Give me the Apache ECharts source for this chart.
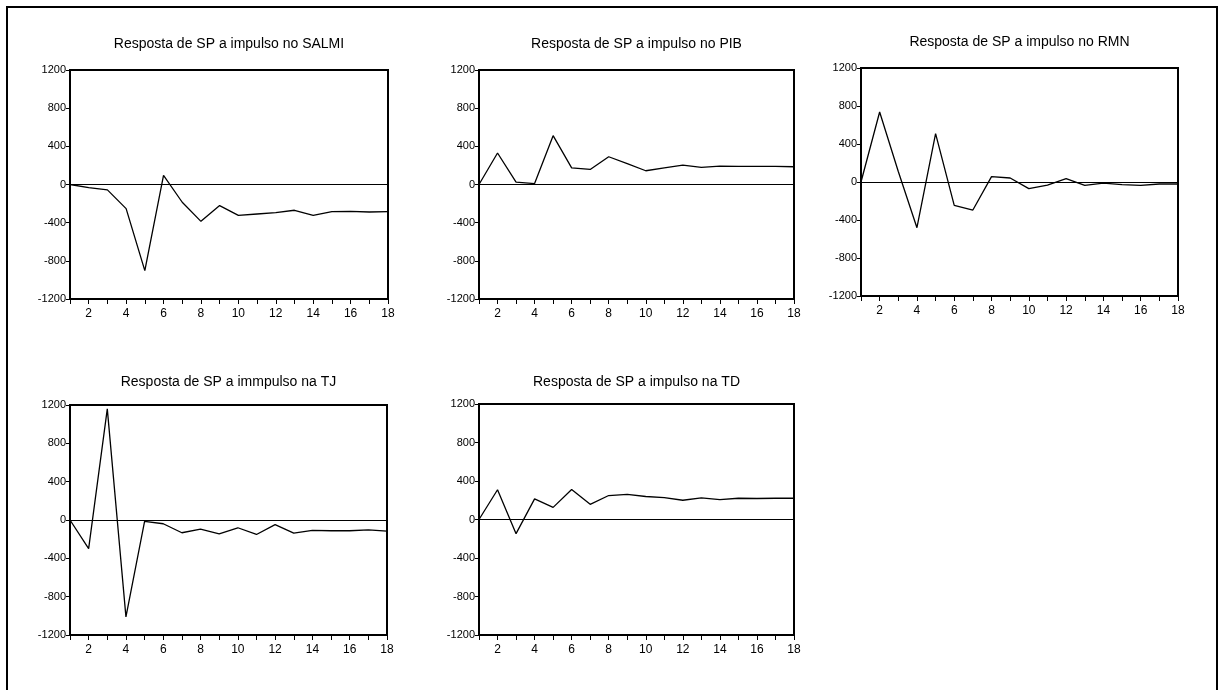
<!DOCTYPE html>
<html>
<head>
<meta charset="utf-8">
<script src="https://cdn.jsdelivr.net/npm/echarts@6/dist/echarts.min.js"></script>
<style>
  html, body { margin: 0; padding: 0; background: #fff; }
  #chart { width: 1218px; height: 690px; }
</style>
</head>
<body>
<div id="chart"></div>
<script>
// periodos 1..18
const periods = [1, 2, 3, 4, 5, 6, 7, 8, 9, 10, 11, 12, 13, 14, 15, 16, 17, 18]
const yTicks = [-1200, -800, -400, 0, 400, 800, 1200]

const titles = [
  'Resposta de SP a impulso no SALMI',
  'Resposta de SP a impulso no PIB',
  'Resposta de SP a impulso no RMN',
  'Resposta de SP a immpulso na TJ',
  'Resposta de SP a impulso na TD'
]

const salmi = [0, -32, -56, -253, -902, 95, -186, -386, -221, -323, -309, -295, -270, -323, -284, -281, -288, -284]
const pib = [0, 330, 25, 10, 512, 175, 158, 291, 218, 144, 175, 204, 179, 193, 189, 189, 189, 186]
const rmn = [0, 737, 110, -481, 509, -246, -295, 56, 42, -70, -32, 35, -35, -11, -28, -35, -21, -21]
const tj = [0, -298, 1160, -1011, -14, -39, -133, -95, -144, -81, -151, -49, -137, -109, -112, -112, -102, -116]
const td = [0, 309, -147, 214, 126, 312, 158, 249, 260, 239, 228, 200, 225, 207, 221, 218, 221, 221]

const seriesData = [salmi, pib, rmn, tj, td]

// posicao de cada painel (px)
const boxes = [
  {left: 70, top: 70, width: 318, height: 229},
  {left: 479, top: 70, width: 315, height: 229},
  {left: 861, top: 68, width: 317, height: 228},
  {left: 70, top: 405, width: 317, height: 230},
  {left: 479, top: 404, width: 315, height: 231}
]
const titleY = [37, 37, 35, 375, 375]

const font = 'Liberation Sans, Arial, sans-serif'

const myChart = echarts.init(document.getElementById('chart'))

myChart.setOption({
  animation: false,
  backgroundColor: '#fff',
  title: titles.map((t, i) => ({
    text: t,
    left: boxes[i].left + boxes[i].width / 2,
    top: titleY[i],
    textAlign: 'center',
    padding: 0,
    textStyle: {fontFamily: font, fontSize: 14, fontWeight: 'normal', color: '#000'}
  })),
  graphic: [{
    type: 'rect',
    shape: {x: 7, y: 7, width: 1210, height: 700},
    style: {fill: 'none', stroke: '#000', lineWidth: 2},
    silent: true
  }],
  grid: boxes.map(b => ({
    left: b.left, top: b.top, width: b.width, height: b.height,
    show: true,
    borderColor: '#000',
    borderWidth: 2,
    backgroundColor: '#fff'
  })),
  xAxis: boxes.map((b, i) => ({
    type: 'value',
    gridIndex: i,
    position: 'bottom',
    min: 1,
    max: 18,
    interval: 1,
    axisLine: {show: true, onZero: false, lineStyle: {color: '#000', width: 2}},
    axisTick: {show: true, inside: false, length: 5, lineStyle: {color: '#000', width: 1}},
    splitLine: {show: false},
    axisLabel: {
      margin: 9,
      fontFamily: font,
      fontSize: 12,
      color: '#000',
      formatter: v => (v % 2 === 0 ? String(v) : '')
    }
  })),
  yAxis: boxes.map((b, i) => ({
    type: 'value',
    gridIndex: i,
    position: 'left',
    min: yTicks[0],
    max: yTicks[yTicks.length - 1],
    interval: 400,
    axisLine: {show: true, onZero: false, lineStyle: {color: '#000', width: 2}},
    axisTick: {show: true, inside: false, length: 4, lineStyle: {color: '#000', width: 1}},
    splitLine: {show: false},
    axisLabel: {margin: 4, fontFamily: font, fontSize: 11, color: '#000', formatter: v => String(v)}
  })),
  series: seriesData.map((vals, i) => ({
    type: 'line',
    xAxisIndex: i,
    yAxisIndex: i,
    data: periods.map((p, j) => [p, vals[j]]),
    showSymbol: false,
    lineStyle: {color: '#000', width: 1.3},
    markLine: {
      silent: true,
      symbol: 'none',
      label: {show: false},
      lineStyle: {color: '#000', width: 1, type: 'solid'},
      data: [{yAxis: 0}]
    }
  }))
})
</script>
</body>
</html>
